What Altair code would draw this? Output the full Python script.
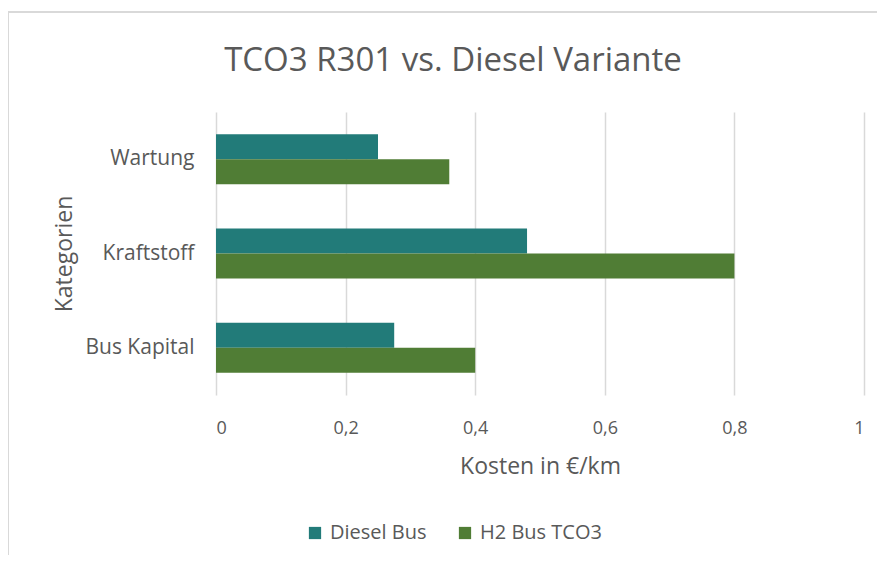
import altair as alt
import pandas as pd

categories = ["Wartung", "Kraftstoff", "Bus Kapital"]
series = ["Diesel Bus", "H2 Bus TCO3"]
diesel = [0.25, 0.48, 0.275]
h2 = [0.36, 0.80, 0.40]
colors = ["#227B79", "#507D35"]
x_ticks = [0, 0.2, 0.4, 0.6, 0.8, 1]
chart_title = ["TCO3 R301 vs. Diesel Variante"]

rows = []
for c, d, h in zip(categories, diesel, h2):
    rows.append({"Kategorie": c, "Serie": series[0], "Wert": d})
    rows.append({"Kategorie": c, "Serie": series[1], "Wert": h})
df = pd.DataFrame(rows)

FONT = "Open Sans"
GREY = "#595959"

bars = alt.Chart(df).mark_bar().encode(
    y=alt.Y("Kategorie:N", sort=categories,
            scale=alt.Scale(paddingInner=0.47, paddingOuter=0.235),
            axis=alt.Axis(title="Kategorien", labelFontSize=21, labelColor=GREY,
                          labelFont=FONT, titleFont=FONT, titleFontSize=23,
                          titleColor=GREY, titleFontWeight="normal",
                          labelPadding=22, titlePadding=8, ticks=False,
                          domain=False, grid=False)),
    yOffset=alt.YOffset("Serie:N", sort=series),
    x=alt.X("Wert:Q", scale=alt.Scale(domain=[0, 1], nice=False),
            axis=alt.Axis(title="Kosten in €/km", values=x_ticks,
                          labelExpr="replace(format(datum.value, '~g'), '.', ',')",
                          labelFontSize=18, labelColor=GREY, labelFont=FONT,
                          titleFont=FONT, titleFontSize=23, titleColor=GREY,
                          titleFontWeight="normal", labelPadding=24, titlePadding=18,
                          ticks=False, domain=False, grid=True,
                          gridColor="#d9d9d9", gridWidth=1.5)),
    color=alt.Color("Serie:N", sort=series,
                    scale=alt.Scale(domain=series, range=colors),
                    legend=alt.Legend(title=None, orient="none", direction="horizontal",
                                      legendX=89, legendY=411, symbolType="square",
                                      symbolSize=150, symbolStrokeWidth=0,
                                      labelFontSize=20, labelColor=GREY, labelFont=FONT,
                                      labelOffset=5, columnPadding=28, symbolOpacity=1)),
)

title_mark = alt.Chart(pd.DataFrame({"t": chart_title})).mark_text(
    font=FONT, fontSize=33, color=GREY, align="center", baseline="middle"
).encode(text="t:N", x=alt.value(237), y=alt.value(-51))

top_border = alt.Chart(df).mark_rule(color="#d9d9d9", strokeWidth=1.5).encode(
    x=alt.value(-208), x2=alt.value(700), y=alt.value(-100)
)
left_border = alt.Chart(df).mark_rule(color="#d9d9d9", strokeWidth=1.5).encode(
    x=alt.value(-208), y=alt.value(-100), y2=alt.value(500)
)

chart = alt.layer(bars, title_mark, top_border, left_border).properties(
    width=648, height=283,
    padding={"left": 208, "top": 104, "right": 13, "bottom": 160},
    autosize=alt.AutoSizeParams(type="none"),
).configure_view(stroke=None)

chart.save("out.html", embed_options={"renderer": "svg", "actions": False})
